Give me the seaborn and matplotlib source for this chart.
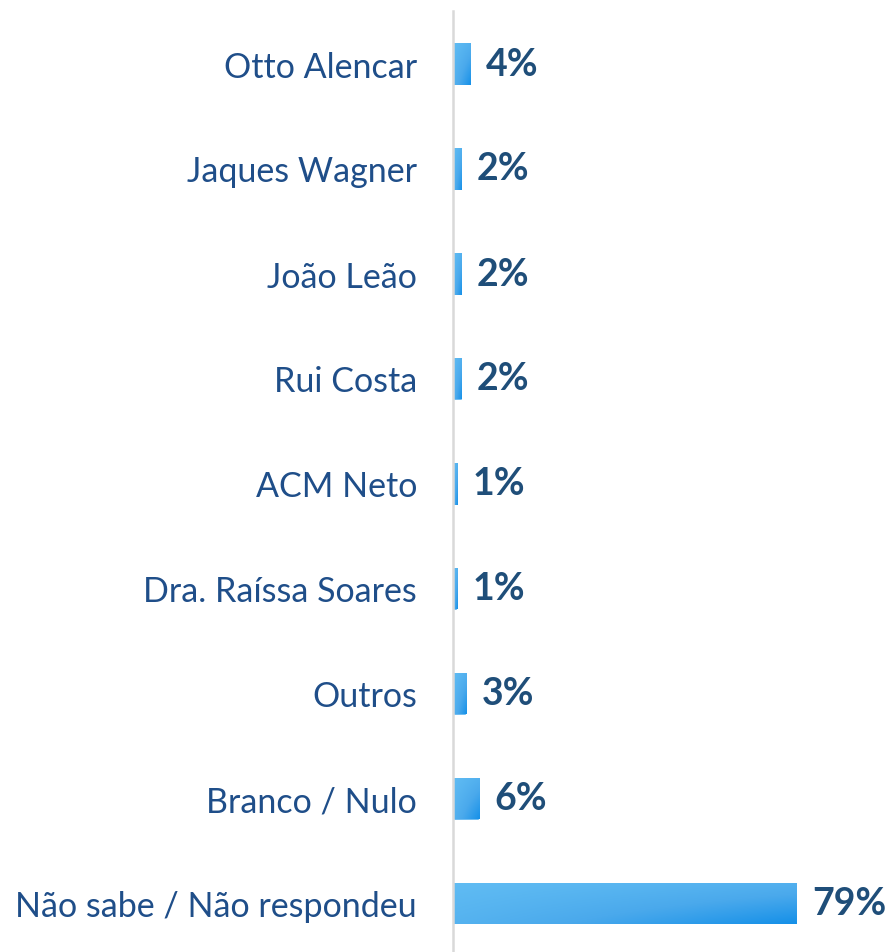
import numpy as np
import pandas as pd
import matplotlib
matplotlib.use("Agg")
import matplotlib.pyplot as plt
import seaborn as sns
from matplotlib.colors import LinearSegmentedColormap

# data
candidatos = ["Otto Alencar", "Jaques Wagner", "João Leão", "Rui Costa", "ACM Neto",
              "Dra. Raíssa Soares", "Outros", "Branco / Nulo", "Não sabe / Não respondeu"]
valores = [4, 2, 2, 2, 1, 1, 3, 6, 79]
rotulos = ["4%", "2%", "2%", "2%", "1%", "1%", "3%", "6%", "79%"]

df = pd.DataFrame({"candidato": candidatos, "valor": valores})

sns.set_style("white")
plt.rcParams["font.family"] = ["Lato", "DejaVu Sans"]

TEXT_COLOR = "#1F4E89"
VALUE_COLOR = "#1F4E79"

fig = plt.figure(figsize=(8.91, 9.53), dpi=100)
ax = fig.add_axes([453 / 891, -4 / 953, 435.4 / 891, 1 - 8 / 953])

sns.barplot(data=df, x="valor", y="candidato", orient="h", color="#4FAEEE",
            width=0.4, ax=ax, saturation=1)

# gradient fill clipped to each bar (light top-left -> darker bottom-right)
cmap = LinearSegmentedColormap.from_list("g", ["#60BCF3", "#4AA9EC", "#1590E8"])
yy, xx = np.mgrid[0:1:50j, 0:1:200j]
grad = 0.3 * xx + 0.25 * yy + 0.45 * xx * yy
for bar in ax.patches:
    x0, y0 = bar.get_x(), bar.get_y()
    w, h = bar.get_width(), bar.get_height()
    im = ax.imshow(grad, cmap=cmap, aspect="auto", extent=[x0, x0 + w, y0, y0 + h],
                   origin="lower", vmin=0, vmax=1, zorder=bar.get_zorder() + 0.1)
    im.set_clip_path(bar)

ax.bar_label(ax.containers[0], labels=rotulos, padding=11, fontsize=27,
             fontweight="bold", color=VALUE_COLOR)

ax.set_xlim(0, 100)
ax.set_ylim(8.5, -0.5)
ax.set_xlabel("")
ax.set_ylabel("")
ax.set_xticks([])
ax.tick_params(axis="y", length=0, pad=26, labelsize=24.5, labelcolor=TEXT_COLOR)
for s in ["top", "right", "bottom"]:
    ax.spines[s].set_visible(False)
ax.spines["left"].set_color("#D9D9D9")
ax.spines["left"].set_linewidth(1.8)

fig.savefig("out.png", dpi=100)
